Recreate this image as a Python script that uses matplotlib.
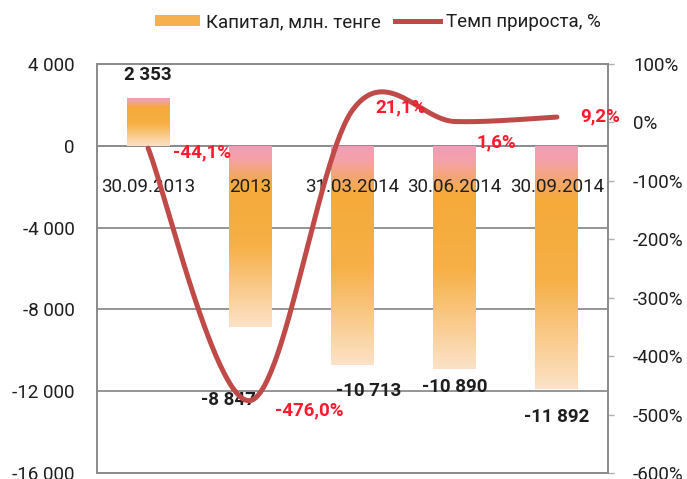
import numpy as np
import matplotlib
matplotlib.use("Agg")
import matplotlib.pyplot as plt
from matplotlib.colors import LinearSegmentedColormap
from matplotlib.patches import Patch
from matplotlib.lines import Line2D

plt.rcParams['font.family'] = ['Roboto', 'DejaVu Sans']

# ---- data ----
categories = ["30.09.2013", "2013", "31.03.2014", "30.06.2014", "30.09.2014"]
capital = [2353, -8847, -10713, -10890, -11892]
capital_labels = ["2 353", "-8 847", "-10 713", "-10 890", "-11 892"]
growth = [-44.1, -476.0, 21.1, 1.6, 9.2]
growth_labels = ["-44,1%", "-476,0%", "21,1%", "1,6%", "9,2%"]
left_ticks = [4000, 0, -4000, -8000, -12000, -16000]
left_tick_labels = ["4 000", "0", "-4 000", "-8 000", "-12 000", "-16 000"]
right_ticks = [100, 0, -100, -200, -300, -400, -500, -600]
right_tick_labels = ["100%", "0%", "-100%", "-200%", "-300%", "-400%", "-500%", "-600%"]

# ---- layout offsets for labels (pixels) ----
bar_label_offsets = [(0, 23), (-22, -73), (16, -26), (0, -18), (0, -28)]
line_label_offsets = [(54, -4), (59, -10), (48, 3), (42, -21), (43, 1)]

FS = 13.5

fig = plt.figure(figsize=(6.87, 4.79), dpi=100)
ax = fig.add_axes([97/687, 1-473/479, (608-97)/687, (473-64)/479])
ax2 = ax.twinx()

x = np.arange(len(categories))
grid_col = '#8c8c8c'
text_col = '#1e1e1e'

# gradient colormap for bars (top -> bottom)
cmap = LinearSegmentedColormap.from_list('bar', [
    (0.00, (242/255, 156/255, 182/255)),
    (0.07, (244/255, 162/255, 168/255)),
    (0.22, (245/255, 170/255, 58/255)),
    (0.55, (246/255, 176/255, 70/255)),
    (1.00, (252/255, 226/255, 200/255)),
])
grad = np.linspace(0, 1, 256).reshape(-1, 1)

bars = ax.bar(x, capital, width=0.42, color='none', edgecolor='none', zorder=2)
for b in bars:
    x0, w = b.get_x(), b.get_width()
    y0, h = b.get_y(), b.get_height()
    top, bot = max(y0, y0 + h), min(y0, y0 + h)
    im = ax.imshow(grad, cmap=cmap, extent=(x0, x0 + w, bot, top), origin='upper',
                   aspect='auto', zorder=2, interpolation='bilinear')
    im.set_clip_path(b)

ax.set_xlim(-0.5, len(categories) - 0.5)
ax.set_ylim(-16000, 4000)
ax.set_yticks(left_ticks)
ax.set_yticklabels(left_tick_labels)
ax.set_xticks([])
ax.grid(axis='y', color=grid_col, linewidth=1.3, zorder=0)
ax.set_axisbelow(True)
ax.axhline(0, color=grid_col, linewidth=1.3, zorder=1)
ax.tick_params(axis='y', length=0, pad=16, labelsize=FS, labelcolor=text_col)
for s in ax.spines.values():
    s.set_color(grid_col)
    s.set_linewidth(1.3)

# category labels
for i, c in enumerate(categories):
    ax.text(i, 0.70, c, transform=ax.get_xaxis_transform(), ha='center', va='center',
            fontsize=FS, color=text_col, zorder=3)

# bar value labels
for i, (v, lab) in enumerate(zip(capital, capital_labels)):
    dx, dy = bar_label_offsets[i]
    ax.annotate(lab, (i, v), xytext=(dx, dy), textcoords='offset pixels', ha='center',
                va='center', fontsize=FS, fontweight='bold', color=text_col, zorder=4)

# smoothed line (Excel-style Bezier smoothing)
def smooth(xs, ys, n=60):
    pts = np.column_stack([xs, ys]).astype(float)
    out = []
    for i in range(len(pts) - 1):
        p0 = pts[i - 1] if i > 0 else pts[i]
        p1, p2 = pts[i], pts[i + 1]
        p3 = pts[i + 2] if i + 2 < len(pts) else pts[i + 1]
        c1 = p1 + (p2 - p0) / 6
        c2 = p2 - (p3 - p1) / 6
        t = np.linspace(0, 1, n)[:, None]
        seg = ((1 - t) ** 3) * p1 + 3 * ((1 - t) ** 2) * t * c1 + 3 * (1 - t) * t ** 2 * c2 + t ** 3 * p2
        out.append(seg if i == 0 else seg[1:])
    out = np.vstack(out)
    return out[:, 0], out[:, 1]

sx, sy = smooth(x, growth)
line_col = '#bf4a48'
ax2.plot(sx, sy, color=line_col, linewidth=3.6, solid_capstyle='round', zorder=3)
ax2.set_ylim(-600, 100)
ax2.set_yticks(right_ticks)
ax2.set_yticklabels(right_tick_labels)
ax2.tick_params(axis='y', length=4, width=1, color='#b0b0b0', pad=14, labelsize=FS,
                labelcolor=text_col)
for s in ax2.spines.values():
    s.set_color(grid_col)
    s.set_linewidth(1.3)

for i, (v, lab) in enumerate(zip(growth, growth_labels)):
    dx, dy = line_label_offsets[i]
    ax2.annotate(lab, (i, v), xytext=(dx, dy), textcoords='offset pixels', ha='center',
                 va='center', fontsize=FS, fontweight='bold', color='#ff1a2e', zorder=5)

# legend
handles = [Patch(facecolor='#f7b04e', edgecolor='none'),
           Line2D([0], [0], color=line_col, linewidth=3.6)]
fig.legend(handles, ["Капитал, млн. тенге", "Темп прироста, %"], loc='center',
           bbox_to_anchor=(378/687, 1-22/479), ncol=2, frameon=False, fontsize=FS,
           handlelength=2.4, handleheight=0.5, handletextpad=0.3, columnspacing=0.8,
           labelcolor=text_col)

fig.savefig("out.png", dpi=100)
